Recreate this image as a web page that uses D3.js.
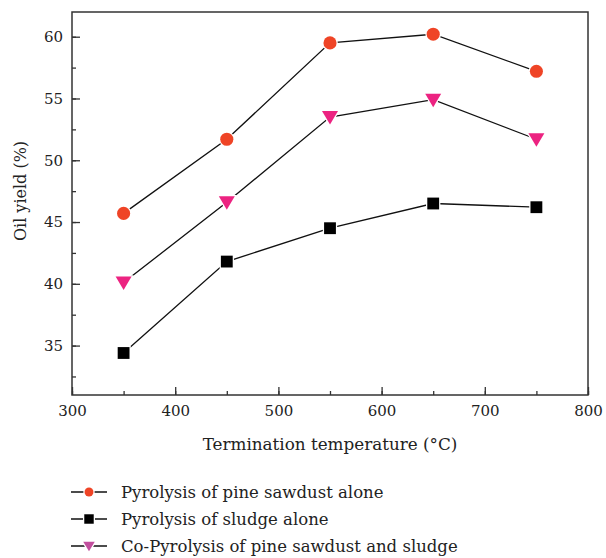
<!DOCTYPE html>
<html>
<head>
<meta charset="utf-8">
<script src="https://cdn.jsdelivr.net/npm/d3@7"></script>
<style>
  body { margin: 0; background: #fff; }
  svg text { font-family: "DejaVu Serif", "Liberation Serif", serif; fill: #222; }
</style>
</head>
<body>
<div id="chart"></div>
<script>
// data
var temps = [350, 450, 550, 650, 750];
var sawdust = [45.7, 51.7, 59.5, 60.2, 57.2];
var sludge = [34.4, 41.8, 44.5, 46.5, 46.2];
var coPyro = [40.1, 46.6, 53.5, 54.9, 51.7];
var xTicks = [300, 400, 500, 600, 700, 800];
var yTicks = [35, 40, 45, 50, 55, 60];
var seriesNames = ["Pyrolysis of pine sawdust alone", "Pyrolysis of sludge alone", "Co-Pyrolysis of pine sawdust and sludge"];

var W = 606, H = 558;
var margin = {top: 12, right: 18, bottom: 163, left: 72};
var width = W - margin.left - margin.right,
    height = H - margin.top - margin.bottom;

var svg = d3.select("#chart").append("svg")
    .attr("width", W).attr("height", H);
var g = svg.append("g")
    .attr("transform", "translate(" + margin.left + "," + margin.top + ")");

var x = d3.scaleLinear().domain([300, 800]).range([0, width]);
var y = d3.scaleLinear().domain([31, 62]).range([height, 0]);

// frame
g.append("rect")
    .attr("width", width).attr("height", height)
    .attr("fill", "none").attr("stroke", "#333").attr("stroke-width", 1.5);

// x axis, ticks pointing inward
var xMinor = g.append("g").attr("transform", "translate(0," + height + ")")
    .call(d3.axisBottom(x).tickValues(d3.range(300, 801, 50)).tickSize(-4).tickFormat(""));
xMinor.select(".domain").remove();
var xMajor = g.append("g").attr("transform", "translate(0," + height + ")")
    .call(d3.axisBottom(x).tickValues(xTicks).tickSize(-8).tickPadding(10));
xMajor.select(".domain").remove();

// y axis
var yMinor = g.append("g")
    .call(d3.axisLeft(y).tickValues(d3.range(32.5, 62, 2.5)).tickSize(-4).tickFormat(""));
yMinor.select(".domain").remove();
var yMajor = g.append("g")
    .call(d3.axisLeft(y).tickValues(yTicks).tickSize(-8).tickPadding(9));
yMajor.select(".domain").remove();

g.selectAll(".tick line").attr("stroke", "#333").attr("stroke-width", 1.3);
g.selectAll(".tick text")
    .attr("font-family", "DejaVu Serif, serif")
    .attr("font-size", 15).attr("fill", "#222");

// axis labels
svg.append("text")
    .attr("x", margin.left + width / 2).attr("y", 450)
    .attr("text-anchor", "middle").attr("font-size", 16.8)
    .text("Termination temperature (°C)");
svg.append("text")
    .attr("transform", "translate(26,191) rotate(-90)")
    .attr("text-anchor", "middle").attr("font-size", 16)
    .text("Oil yield (%)");

var line = d3.line()
    .x(function(d) { return x(d[0]); })
    .y(function(d) { return y(d[1]); });

var series = [
  {vals: sawdust, shape: d3.symbolCircle, size: 135, legScale: 0.68, color: "#ef4426", legColor: "#ef4426"},
  {vals: sludge, shape: d3.symbolSquare, size: 140, legScale: 0.8, color: "#000000", legColor: "#000000"},
  {vals: coPyro, shape: "tri", size: 0, legScale: 0.72, color: "#ec2381", legColor: "#c24f9e"}
];

function drawMarker(sel, s, scale) {
  if (s.shape === "tri") {
    var w = 8 * scale, h = 13.5 * scale;
    sel.append("path")
      .attr("d", "M" + (-w) + "," + (-h * 0.45) + "L" + w + "," + (-h * 0.45) + "L0," + (h * 0.55) + "Z");
  } else {
    sel.append("path").attr("d", d3.symbol().type(s.shape).size(s.size * scale * scale)());
  }
}

series.forEach(function(s) {
  var pts = temps.map(function(t, i) { return [t, s.vals[i]]; });
  g.append("path")
      .datum(pts)
      .attr("d", line)
      .attr("fill", "none").attr("stroke", "#111").attr("stroke-width", 1.3);
  pts.forEach(function(p) {
    var m = g.append("g")
        .attr("transform", "translate(" + x(p[0]) + "," + y(p[1]) + ")");
    drawMarker(m, s, 1);
    m.select("path").attr("fill", s.color).attr("stroke", "#fff").attr("stroke-width", 2.5)
        .attr("paint-order", "stroke");
  });
});

// legend
var legend = svg.append("g");
series.forEach(function(s, i) {
  var ly = 492 + i * 27;
  legend.append("line")
      .attr("x1", 71).attr("x2", 107).attr("y1", ly).attr("y2", ly)
      .attr("stroke", "#111").attr("stroke-width", 1.3);
  var m = legend.append("g").attr("transform", "translate(89," + ly + ")");
  drawMarker(m, s, s.legScale);
  m.select("path").attr("fill", s.legColor).attr("stroke", "#fff").attr("stroke-width", 2.5)
      .attr("paint-order", "stroke");
  legend.append("text")
      .attr("x", 121).attr("y", ly).attr("dy", "0.35em")
      .attr("font-size", 16.5)
      .text(seriesNames[i]);
});
</script>
</body>
</html>
